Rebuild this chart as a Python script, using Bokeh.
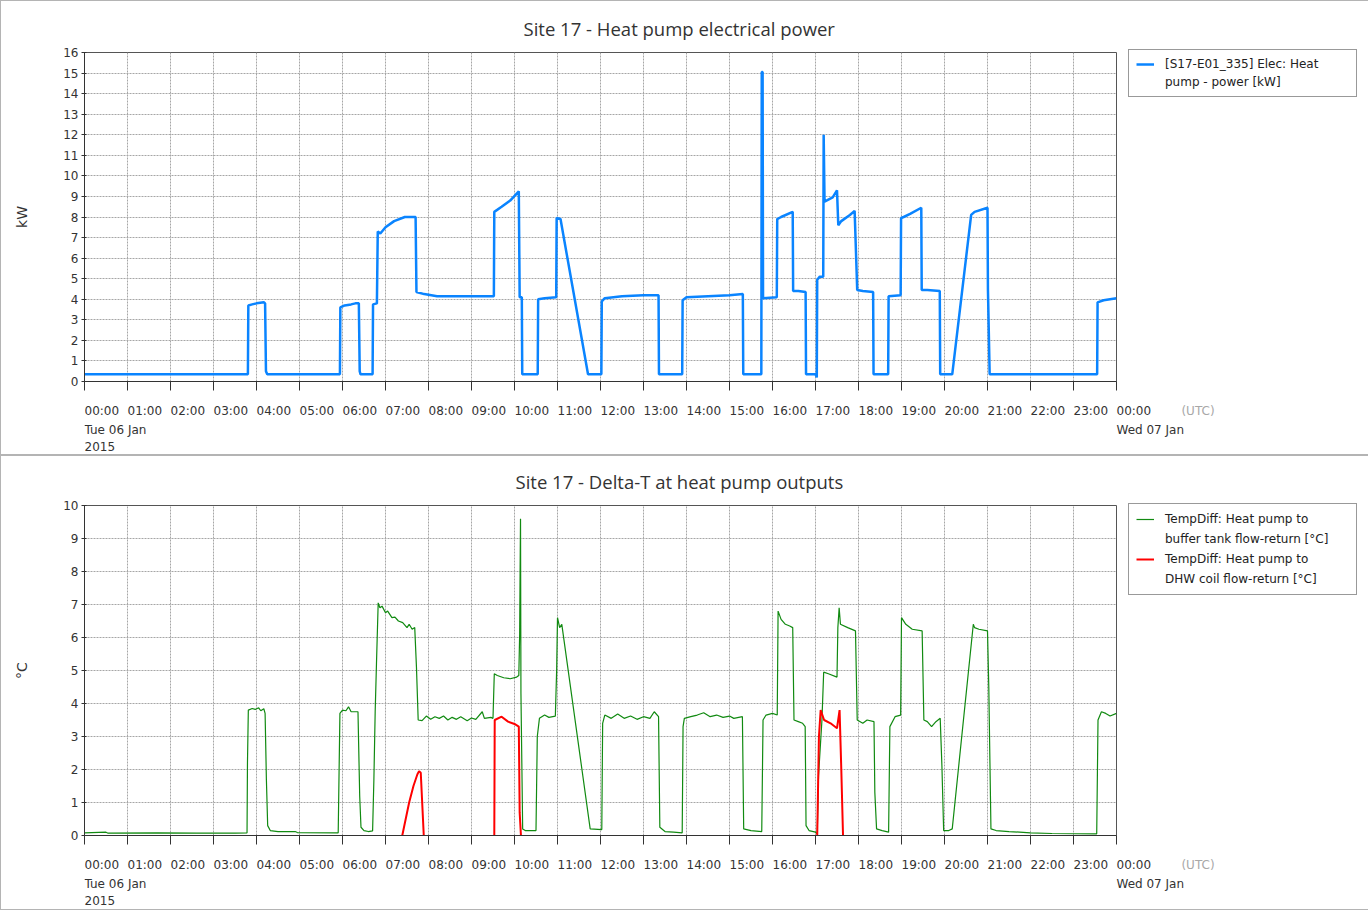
from bokeh.plotting import figure
from bokeh.models import FixedTicker, Legend, LegendItem, Range1d
from bokeh.layouts import column
from bokeh.embed import file_html
from bokeh.resources import INLINE
from bokeh.core.properties import value

NaN = float("nan")

# ---------------- data (hours since 00:00 Tue 06 Jan 2015, UTC) ----------------
power_hours = [0.00, 3.80, 3.81, 3.90, 4.00, 4.17, 4.20, 4.22, 4.25,
               5.94, 5.95, 6.05, 6.20, 6.30, 6.38, 6.40, 6.42,
               6.70, 6.71, 6.80, 6.82, 6.88, 7.00, 7.20, 7.45, 7.70, 7.72, 7.90, 8.20,
               9.52, 9.53, 9.70, 9.90, 10.10, 10.12, 10.17, 10.18,
               10.54, 10.55, 10.70, 10.97, 10.98, 11.07, 11.71,
               12.02, 12.03, 12.10, 12.50, 13.00, 13.35, 13.36,
               13.90, 13.91, 14.00, 14.50, 15.00, 15.31, 15.32,
               15.74, 15.75, 15.77, 15.78, 16.10, 16.11, 16.20, 16.47, 16.48, 16.60, 16.77, 16.78,
               17.00, 17.03, 17.04, 17.10, 17.18, 17.19, 17.21, 17.40, 17.50, 17.53, 17.60, 17.80,
               17.91, 17.97, 18.10, 18.34, 18.35,
               18.69, 18.70, 18.98, 18.99, 19.05, 19.20, 19.46, 19.47, 19.60, 19.89, 19.90,
               20.18, 20.62, 20.70, 21.00, 21.01, 21.05,
               23.55, 23.56, 23.70, 24.00]
power_kw = [0.35, 0.35, 3.70, 3.75, 3.80, 3.85, 3.80, 0.50, 0.35,
            0.35, 3.60, 3.70, 3.75, 3.80, 3.80, 0.50, 0.35,
            0.35, 3.75, 3.80, 7.30, 7.20, 7.50, 7.80, 8.00, 8.00, 4.35, 4.25, 4.15,
            4.15, 8.25, 8.50, 8.80, 9.25, 4.10, 4.10, 0.35,
            0.35, 4.00, 4.05, 4.10, 7.95, 7.90, 0.35,
            0.35, 3.90, 4.05, 4.15, 4.20, 4.20, 0.35,
            0.35, 3.95, 4.10, 4.15, 4.20, 4.25, 0.35,
            0.35, 15.05, 15.05, 4.05, 4.10, 7.90, 8.00, 8.25, 4.40, 4.40, 4.35, 0.35,
            0.35, 0.20, 4.95, 5.10, 5.10, 12.00, 8.75, 8.95, 9.30, 7.60, 7.80, 8.10,
            8.30, 4.45, 4.40, 4.35, 0.35,
            0.35, 4.15, 4.20, 7.95, 8.00, 8.15, 8.45, 4.45, 4.45, 4.40, 0.35,
            0.35, 8.10, 8.25, 8.45, 4.50, 0.35,
            0.35, 3.85, 3.95, 4.05]

buffer_hours = [0.00, 0.50, 0.55, 1.70, 2.60, 3.50, 3.78, 3.79, 3.81, 3.90, 3.97, 4.05, 4.10, 4.17,
                4.20, 4.23, 4.26, 4.32, 4.50, 4.90, 4.95, 5.90, 5.92, 5.94, 6.00, 6.08, 6.14,
                6.20, 6.36, 6.40, 6.43, 6.50, 6.60, 6.70, 6.73, 6.76, 6.79, 6.83, 6.87, 6.92,
                7.00, 7.05, 7.15, 7.22, 7.30, 7.40, 7.50, 7.55, 7.62, 7.68, 7.72, 7.76, 7.85,
                7.95, 8.05, 8.15, 8.25, 8.35, 8.45, 8.55, 8.65, 8.75, 8.90, 9.00, 9.10, 9.25,
                9.30, 9.45, 9.50, 9.53, 9.60, 9.75, 9.90, 10.05, 10.10, 10.12, 10.13, 10.14,
                10.15, 10.19, 10.25, 10.50, 10.53, 10.58, 10.70, 10.80, 10.95, 10.98, 11.00,
                11.05, 11.10, 11.76, 12.03, 12.05, 12.10, 12.25, 12.40, 12.55, 12.70, 12.85,
                13.00, 13.15, 13.25, 13.35, 13.38, 13.50, 13.70, 13.90, 13.92, 13.95, 14.10,
                14.25, 14.40, 14.55, 14.70, 14.85, 15.00, 15.10, 15.30, 15.33, 15.50, 15.75,
                15.78, 15.85, 16.00, 16.11, 16.13, 16.20, 16.30, 16.40, 16.47, 16.50, 16.60,
                16.70, 16.76, 16.78, 16.85, 17.00, 17.04, 17.07, 17.15, 17.19, 17.30, 17.50,
                17.52, 17.55, 17.58, 17.75, 17.93, 17.97, 18.10, 18.20, 18.36, 18.38, 18.42,
                18.55, 18.70, 18.73, 18.85, 18.98, 19.00, 19.10, 19.25, 19.48, 19.52, 19.60,
                19.70, 19.80, 19.90, 19.94, 19.98, 20.10, 20.18, 20.67, 20.70, 20.80, 21.00,
                21.03, 21.08, 21.20, 21.50, 22.00, 22.50, 23.54, 23.57, 23.65, 23.75, 23.85,
                24.00]
buffer_dt = [0.08, 0.10, 0.07, 0.08, 0.07, 0.07, 0.08, 2.20, 3.80, 3.85, 3.82, 3.87, 3.78, 3.84,
             3.70, 1.70, 0.30, 0.15, 0.12, 0.12, 0.09, 0.08, 1.90, 3.70, 3.80, 3.78, 3.90,
             3.75, 3.75, 1.20, 0.25, 0.15, 0.12, 0.14, 1.70, 3.75, 5.20, 7.05, 6.90, 6.95,
             6.75, 6.80, 6.60, 6.62, 6.50, 6.45, 6.30, 6.40, 6.25, 6.30, 5.10, 3.50, 3.48,
             3.62, 3.52, 3.60, 3.55, 3.62, 3.50, 3.58, 3.52, 3.60, 3.48, 3.56, 3.52, 3.75,
             3.55, 3.58, 3.55, 4.90, 4.85, 4.78, 4.75, 4.80, 4.85, 6.10, 7.95, 9.60,
             4.30, 0.20, 0.15, 0.15, 3.00, 3.55, 3.65, 3.58, 3.62, 5.00, 6.60,
             6.30, 6.40, 0.20, 0.18, 3.40, 3.65, 3.55, 3.68, 3.55, 3.62, 3.52,
             3.60, 3.55, 3.75, 3.60, 0.25, 0.12, 0.10, 0.08, 3.30, 3.55, 3.60,
             3.65, 3.72, 3.60, 3.65, 3.58, 3.62, 3.55, 3.60, 0.20, 0.15, 0.12,
             3.50, 3.65, 3.70, 3.65, 6.80, 6.55, 6.40, 6.35, 6.30, 3.50, 3.45,
             3.40, 3.30, 0.30, 0.15, 0.10, 0.05, 1.80, 3.50, 4.95, 4.90, 4.80,
             6.30, 6.90, 6.40, 6.30, 6.20, 3.50, 3.40, 3.50, 3.45, 1.30, 0.20,
             0.15, 0.10, 3.30, 3.60, 3.65, 6.60, 6.40, 6.25, 6.20, 3.50, 3.45,
             3.30, 3.45, 3.55, 2.10, 0.15, 0.15, 0.20, 6.40, 6.30, 6.25, 6.20,
             4.50, 0.20, 0.15, 0.12, 0.08, 0.06, 0.05, 3.50, 3.75, 3.70, 3.62,
             3.70]

dhw_hours = [7.39, 7.55, 7.65, 7.74, 7.78, 7.82, 7.89, NaN,
             9.53, 9.54, 9.70, 9.85, 10.00, 10.10, 10.12, 10.15, NaN,
             17.04, 17.08, 17.12, 17.20, 17.35, 17.50, 17.56, 17.60, 17.64]
dhw_dt = [0.00, 1.00, 1.50, 1.85, 1.95, 1.90, 0.00, NaN,
          0.00, 3.50, 3.60, 3.45, 3.38, 3.30, 0.70, 0.00, NaN,
          0.00, 3.00, 3.80, 3.50, 3.40, 3.25, 3.80, 2.00, 0.00]

hour_ticks = list(range(25))
hour_labels = ["00:00", "01:00", "02:00", "03:00", "04:00", "05:00", "06:00", "07:00",
               "08:00", "09:00", "10:00", "11:00", "12:00", "13:00", "14:00", "15:00",
               "16:00", "17:00", "18:00", "19:00", "20:00", "21:00", "22:00", "23:00", "00:00"]
date_hours = [0, 24]
date_labels = ["Tue 06 Jan", "Wed 07 Jan"]
year_hours = [0]
year_labels = ["2015"]
tz_hours = [25.51]
tz_labels = ["(UTC)"]

power_title = "Site 17 - Heat pump electrical power"
dt_title = "Site 17 - Delta-T at heat pump outputs"
power_legend = ["[S17-E01_335] Elec: Heat", "pump - power [kW]"]
buffer_legend = ["TempDiff: Heat pump to", "buffer tank flow-return [°C]"]
dhw_legend = ["TempDiff: Heat pump to", "DHW coil flow-return [°C]"]

FONT = "DejaVu Sans"
TXT = "#333333"
LEFT = 84
RIGHT = 250
FRAME_W = 1032
STRIP_W = 1282
PANEL_STYLE = {"outline": "1px solid #b4b4b4", "outline-offset": "-1px"}


def make_chart(title, title_off, ymax, frame_h, top, bottom, ylabel):
    p = figure(frame_width=FRAME_W, frame_height=frame_h, output_backend="svg",
               toolbar_location=None, tools="", x_range=Range1d(0, 24),
               y_range=Range1d(0, ymax), min_border_left=LEFT, min_border_right=RIGHT,
               min_border_top=top, min_border_bottom=bottom)
    p.background_fill_color = "white"
    p.border_fill_color = None
    p.outline_line_color = "#555555"
    p.title.text = title
    p.title.align = "left"
    p.title.offset = title_off
    p.title.text_font = "Open Sans"
    p.title.text_font_size = "18.5px"
    p.title.text_font_style = "normal"
    p.title.text_color = TXT
    p.title.standoff = 23

    p.xaxis.ticker = FixedTicker(ticks=hour_ticks)
    p.xgrid.ticker = FixedTicker(ticks=hour_ticks)
    yt = list(range(ymax + 1))
    p.yaxis.ticker = FixedTicker(ticks=yt)
    p.ygrid.ticker = FixedTicker(ticks=yt)
    for g in (p.xgrid, p.ygrid):
        g.grid_line_color = "#a6a6a6"
        g.grid_line_dash = "2 1"
        g.grid_line_width = 1

    p.xaxis.major_label_overrides = {t: "" for t in hour_ticks}
    p.xaxis.major_label_text_font_size = "1px"
    p.xaxis.major_label_standoff = 0
    p.xaxis.major_tick_out = 9
    p.xaxis.major_tick_in = 0
    p.xaxis.minor_tick_line_color = None
    p.xaxis.axis_line_color = TXT
    p.xaxis.major_tick_line_color = TXT

    p.yaxis.axis_label = ylabel
    p.yaxis.axis_label_text_font = FONT
    p.yaxis.axis_label_text_font_size = "14px"
    p.yaxis.axis_label_text_font_style = "normal"
    p.yaxis.axis_label_text_color = TXT
    p.yaxis.axis_label_standoff = 30
    p.yaxis.major_label_text_font = FONT
    p.yaxis.major_label_text_font_size = "12px"
    p.yaxis.major_label_text_color = TXT
    p.yaxis.major_label_standoff = 3
    p.yaxis.major_tick_out = 3
    p.yaxis.major_tick_in = 2
    p.yaxis.minor_tick_line_color = None
    p.yaxis.axis_line_color = TXT
    p.yaxis.major_tick_line_color = TXT
    return p


def make_strip(height, rows):
    # strip below a chart holding the time-axis labels (same horizontal scale)
    s = figure(frame_width=STRIP_W, frame_height=height, output_backend="svg",
               toolbar_location=None, tools="",
               x_range=Range1d(0, 24 * STRIP_W / FRAME_W), y_range=Range1d(height, 0),
               min_border_left=LEFT, min_border_right=0, min_border_top=0,
               min_border_bottom=0, x_axis_type=None, y_axis_type=None)
    s.outline_line_color = None
    s.background_fill_color = None
    s.border_fill_color = None
    s.xgrid.visible = False
    s.ygrid.visible = False
    y0, y1, y2 = rows
    kw = dict(text_align="left", text_baseline="top", text_font=value(FONT),
              text_font_size="12px", text_color=TXT)
    s.text(x=hour_ticks, y=[y0] * len(hour_ticks), text=hour_labels, **kw)
    s.text(x=date_hours, y=[y1] * len(date_hours), text=date_labels, **kw)
    s.text(x=year_hours, y=[y2] * len(year_hours), text=year_labels, **kw)
    kw["text_color"] = "#a8a8a8"
    s.text(x=tz_hours, y=[y0] * len(tz_hours), text=tz_labels, **kw)
    return s


def make_legend(p, entries, loc, item_h, spacing, padding):
    items = []
    for lines, r in entries:
        items.append(LegendItem(label=lines[0], renderers=[r]))
        blank = p.line([], [], line_color=None)
        for extra in lines[1:]:
            items.append(LegendItem(label=extra, renderers=[blank]))
    lg = Legend(items=items, location=loc)
    lg.border_line_color = "#333333"
    lg.border_line_width = 1
    lg.background_fill_color = "white"
    lg.background_fill_alpha = 1
    lg.padding = padding
    lg.margin = 0
    lg.glyph_width = 18
    lg.glyph_height = item_h
    lg.label_height = item_h
    lg.label_standoff = 11
    lg.label_width = 227 - 2 * padding - 18 - 11
    lg.spacing = spacing
    lg.label_text_font = FONT
    lg.label_text_font_size = "12px"
    lg.label_text_color = "#222222"
    p.add_layout(lg, "right")
    return lg


# ---------------- top chart ----------------
p1 = make_chart(power_title, 439, 16, 329, 52, 19, "kW")
r_pow = p1.line(power_hours, power_kw, line_color="#0a84ff", line_width=2.5)
make_legend(p1, [(power_legend, r_pow)], (12, 284), 14, 4, 7)
s1 = make_strip(55, (3, 22, 41))

# ---------------- bottom chart ----------------
p2 = make_chart(dt_title, 431, 10, 330, 50, 18, "°C")
r_buf = p2.line(buffer_hours, buffer_dt, line_color="#118a11", line_width=1.2)
r_dhw = p2.line(dhw_hours, dhw_dt, line_color="#ff0000", line_width=2)
make_legend(p2, [(buffer_legend, r_buf), (dhw_legend, r_dhw)], (12, 240), 16, 4, 7)
s2 = make_strip(57, (4, 23, 42))

top_panel = column(p1, s1, styles=PANEL_STYLE)
bottom_panel = column(p2, s2, styles=PANEL_STYLE)
layout = column(top_panel, bottom_panel)
open("out.html", "w").write(file_html(layout, INLINE))
